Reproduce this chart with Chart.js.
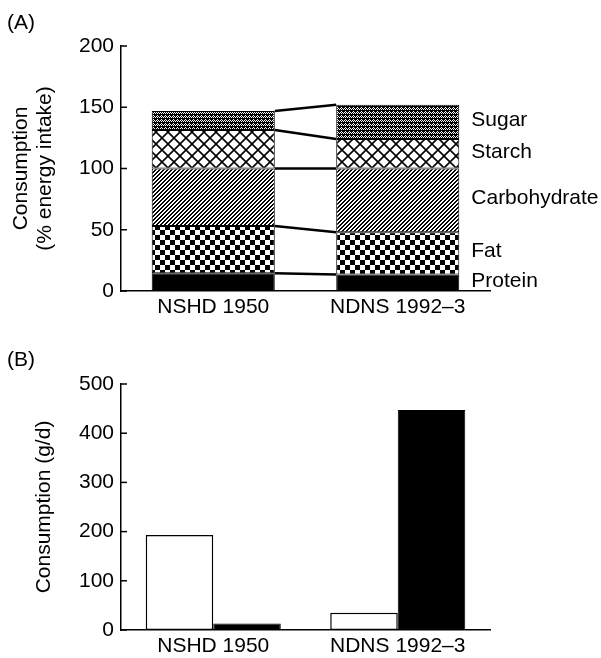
<!DOCTYPE html>
<html><head><meta charset="utf-8">
<script src="https://cdn.jsdelivr.net/npm/chart.js@4.4.1/dist/chart.umd.min.js"></script>
<style>
html,body{margin:0;padding:0;background:#fff;width:601px;height:658px;overflow:hidden;}
.wrap{position:absolute;left:0;width:601px;height:329px;}
canvas{display:block;}
.plabel{position:absolute;left:7px;font:21px "Liberation Sans",Arial,sans-serif;line-height:21px;color:#000;}
</style></head><body>
<div class="wrap" style="top:0"><canvas id="cA" width="601" height="329"></canvas></div>
<div class="wrap" style="top:329px"><canvas id="cB" width="601" height="329"></canvas></div>
<div class="plabel" style="top:11px">(A)</div>
<div class="plabel" style="top:348px">(B)</div>
<script>
// ---- Data ----
const categories = ['NSHD 1950', 'NDNS 1992–3'];
const protein = [14.5, 13.5];
const fat = [38.5, 34.5];
const carbohydrate = [47, 52];
const starch = [31.5, 24];
const sugar = [15.5, 28];
const ticksA = [0, 50, 100, 150, 200];

const whiteSeries = [193, 35];
const blackSeries = [13, 447];
const ticksB = [0, 100, 200, 300, 400, 500];

const FONT = '"Liberation Sans", Arial, Helvetica, sans-serif';
const FS = 21;

// ---- Patterns ----
function tile(w, h, draw) {
  const c = document.createElement('canvas');
  c.width = w; c.height = h;
  const g = c.getContext('2d');
  g.fillStyle = '#fff'; g.fillRect(0, 0, w, h);
  draw(g);
  return document.getElementById('cA').getContext('2d').createPattern(c, 'repeat');
}
const checker = tile(10, 10, g => {
  g.fillStyle = '#000';
  g.fillRect(0, 0, 5, 5); g.fillRect(5, 5, 5, 5);
});
const diag = tile(4, 4, g => {
  g.fillStyle = '#000';
  for (let x = 0; x < 4; x++) for (let y = 0; y < 4; y++) if ((x + y) % 4 < 2) g.fillRect(x, y, 1, 1);
});
const cross = tile(12, 12, g => {
  g.strokeStyle = '#000'; g.lineWidth = 1.6;
  g.beginPath();
  g.moveTo(-1, -1); g.lineTo(13, 13);
  g.moveTo(-1, 13); g.lineTo(13, -1);
  g.stroke();
});
const dots = tile(4, 4, g => {
  g.fillStyle = '#000'; g.fillRect(0, 0, 4, 4);
  g.fillStyle = '#fff';
  g.fillRect(0, 0, 1, 1); g.fillRect(2, 0, 1, 1);
  g.fillRect(1, 1, 1, 1); g.fillRect(3, 1, 1, 1);
  g.fillRect(1, 3, 1, 1);
});

// ---- Plugins ----
const inwardTicks = {
  id: 'inwardTicks',
  afterDraw(chart) {
    const y = chart.scales.y, ctx = chart.ctx, left = chart.chartArea.left;
    ctx.save();
    ctx.strokeStyle = '#000'; ctx.lineWidth = 1.5;
    y.ticks.forEach(t => {
      const py = y.getPixelForValue(t.value);
      ctx.beginPath(); ctx.moveTo(left - 1, py); ctx.lineTo(left + 6, py); ctx.stroke();
    });
    ctx.restore();
  }
};

const connectors = {
  id: 'connectors',
  afterDatasetsDraw(chart) {
    const ctx = chart.ctx;
    ctx.save();
    ctx.strokeStyle = '#000'; ctx.lineWidth = 2.5;
    ctx.fillStyle = '#000';
    ctx.font = FS + 'px ' + FONT;
    ctx.textAlign = 'left'; ctx.textBaseline = 'middle';
    chart.data.datasets.forEach((ds, i) => {
      const meta = chart.getDatasetMeta(i);
      const a = meta.data[0], b = meta.data[1];
      const ax = a.x + a.width / 2, bx = b.x - b.width / 2;
      ctx.beginPath(); ctx.moveTo(ax, a.y); ctx.lineTo(bx, b.y); ctx.stroke();
      const lx = b.x + b.width / 2 + 12;
      ctx.fillText(ds.label, lx, (b.y + b.base) / 2 - 2);
    });
    ctx.restore();
  }
};

function axisCommon(extra) {
  return Object.assign({
    grid: { display: false, drawTicks: false },
    border: { display: true, color: '#000', width: 1.5 },
  }, extra);
}

// ---- Chart A ----
const patA = [ '#000', checker, diag, cross, dots ];
const namesA = ['Protein', 'Fat', 'Carbohydrate', 'Starch', 'Sugar'];
const valsA = [protein, fat, carbohydrate, starch, sugar];

new Chart(document.getElementById('cA'), {
  type: 'bar',
  data: {
    labels: categories,
    datasets: valsA.map((v, i) => ({
      label: namesA[i], data: v, backgroundColor: patA[i],
      borderColor: '#000', borderWidth: 1, borderSkipped: false,
      categoryPercentage: 1, barPercentage: 0.667
    }))
  },
  options: {
    responsive: false, animation: false,
    layout: { padding: { top: 46, right: 111, left: 0, bottom: 0 } },
    plugins: { legend: { display: false }, tooltip: { enabled: false } },
    scales: {
      x: axisCommon({
        stacked: true,
        ticks: { color: '#000', font: { family: FONT, size: FS }, padding: 4, maxRotation: 0, autoSkip: false },
        afterFit(s) { s.height = 38; }
      }),
      y: axisCommon({
        stacked: true, min: 0, max: 200,
        afterBuildTicks(s) { s.ticks = ticksA.map(v => ({ value: v })); },
        ticks: { color: '#000', font: { family: FONT, size: FS }, padding: 7 },
        title: { display: true, text: ['Consumption', '(% energy intake)'], color: '#000',
                 font: { family: FONT, size: FS, lineHeight: 1.15 }, padding: { top: 9, bottom: 0 } },
        afterFit(s) { s.width = 121; }
      })
    }
  },
  plugins: [inwardTicks, connectors]
});

// ---- Chart B ----
new Chart(document.getElementById('cB'), {
  type: 'bar',
  data: {
    labels: categories,
    datasets: [
      { label: 'White', data: whiteSeries, backgroundColor: '#fff', borderColor: '#000', borderWidth: 1.5,
        borderSkipped: false, categoryPercentage: 0.732, barPercentage: 1 },
      { label: 'Black', data: blackSeries, backgroundColor: '#000', borderColor: '#000', borderWidth: 1,
        borderSkipped: false, categoryPercentage: 0.732, barPercentage: 1 }
    ]
  },
  options: {
    responsive: false, animation: false,
    layout: { padding: { top: 55, right: 111, left: 0, bottom: 0 } },
    plugins: { legend: { display: false }, tooltip: { enabled: false } },
    scales: {
      x: axisCommon({
        ticks: { color: '#000', font: { family: FONT, size: FS }, padding: 4, maxRotation: 0, autoSkip: false },
        afterFit(s) { s.height = 28; }
      }),
      y: axisCommon({
        min: 0, max: 500,
        afterBuildTicks(s) { s.ticks = ticksB.map(v => ({ value: v })); },
        ticks: { color: '#000', font: { family: FONT, size: FS }, padding: 7 },
        title: { display: true, text: 'Consumption (g/d)', color: '#000',
                 font: { family: FONT, size: FS, lineHeight: 1.15 }, padding: { top: 32, bottom: 0 } },
        afterFit(s) { s.width = 121; }
      })
    }
  },
  plugins: [inwardTicks]
});
</script>
</body></html>
